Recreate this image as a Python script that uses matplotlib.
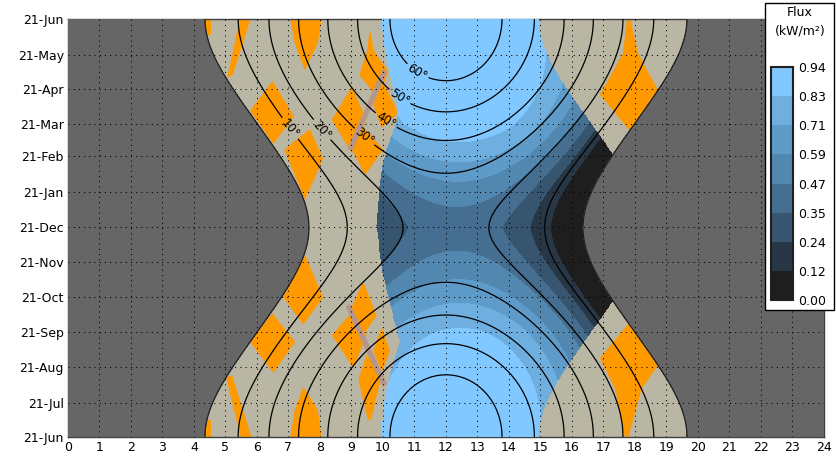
import numpy as np
import matplotlib
matplotlib.use('Agg')
import matplotlib.pyplot as plt
from matplotlib.patches import Polygon, Rectangle

# ---- data ----
latitude = 44.0                     # site latitude (deg N)
month_labels = ['21-Jun', '21-Jul', '21-Aug', '21-Sep', '21-Oct', '21-Nov', '21-Dec',
                '21-Jan', '21-Feb', '21-Mar', '21-Apr', '21-May', '21-Jun']
month_days = [0, 30, 61, 92, 122, 153, 183, 214, 245, 273, 304, 334, 365]   # days after 21-Jun
# sky clearness on each 21st (spring is clearer than autumn on this chart)
month_clearness = [1.0, 1.0, 1.0, 1.0, 0.97, 0.92, 0.83, 0.95, 1.05, 1.10, 1.08, 1.04, 1.0]
hour_ticks = list(range(25))

flux_levels = [0.00, 0.12, 0.24, 0.35, 0.47, 0.59, 0.71, 0.83, 0.94]
flux_colors = ['#1e1e1e', '#283746', '#37556e', '#466e91', '#5287af',
               '#5f9bc8', '#6eafe0', '#80c8ff']
alt_levels = [10, 20, 30, 40, 50, 60]
alt_label_pos = [(7.15, 272), (8.16, 271), (9.53, 267), (10.17, 280), (10.59, 300), (11.17, 323)]

# sunlit window: west limit as an azimuth, east limit as hour vs date
west_limit_az = 75.0
edge_days = [0, 34, 60, 83, 124, 148, 185, 210, 233, 251, 274, 286, 318, 338, 365]
edge_hours = [9.96, 10.06, 10.28, 10.54, 10.16, 9.96, 9.80, 9.86, 9.96, 10.12, 10.43, 10.48,
              10.22, 10.06, 9.96]

# receiving surface and clear-sky beam used for the flux map
surf_tilt = 12.0
surf_azimuth = 30.0        # degrees west of south
beam_max = 1.02            # kW/m2
beam_alt0 = 4.4            # degrees, beam vanishes below this
beam_alt_scale = 8.07      # degrees

# orange patches (hour, days after 21-Jun)
orange_patches = [
    [(5.46, 366), (5.81, 366), (5.24, 317), (5.05, 313)],
    [(4.3, 366), (4.54, 366), (4.54, 351), (4.3, 351)],
    [(7.05, 366), (8.06, 366), (7.93, 344), (7.52, 320), (7.2, 344)],
    [(6.49, 311), (7.18, 280), (6.52, 256), (5.78, 285)],
    [(7.68, 269), (8.10, 243), (7.52, 207), (6.87, 251)],
    [(9.56, 353), (9.62, 353), (9.70, 338), (10.17, 319), (9.85, 296), (9.25, 316), (9.50, 338)],
    [(9.96, 312), (10.49, 283), (9.96, 270), (9.69, 290)],
    [(9.01, 306), (9.48, 277), (9.01, 248), (8.37, 277)],
    [(9.37, 271), (10.01, 251), (9.43, 229), (9.01, 251)],
    [(7.52, 159), (8.10, 122), (7.47, 98), (6.83, 122)],
    [(6.49, 108), (7.21, 83), (6.52, 56), (5.78, 83)],
    [(5.02, 52), (5.21, 54), (5.84, -1), (5.49, -1)],
    [(4.3, 15), (4.54, 15), (4.54, -1), (4.3, -1)],
    [(7.05, -1), (8.06, -1), (7.93, 24), (7.47, 44), (7.2, 24)],
    [(9.37, 136), (9.80, 106), (9.37, 89), (8.95, 110)],
    [(9.01, 109), (9.48, 89), (9.06, 60), (8.37, 89)],
    [(9.96, 96), (10.22, 75), (9.96, 57), (9.69, 75)],
    [(9.48, 72), (9.96, 54), (9.62, 15), (9.52, 15), (9.22, 50)],
    [(17.75, 366), (17.84, 366), (18.10, 335), (18.73, 303), (17.87, 266), (16.89, 299), (17.62, 335)],
    [(17.79, 99), (18.74, 63), (18.21, 42), (17.79, 0), (17.68, 0), (17.37, 42), (16.89, 69)],
]
pink_strips = [[(10.06, 320), (8.95, 251)], [(8.89, 115), (10.06, 45)]]

# ---- sun position grid ----
hours = np.linspace(0, 24, 961)
days = np.linspace(0, 365, 731)
H, D = np.meshgrid(hours, days)
decl = np.radians(23.44) * np.sin(2 * np.pi * (284 + 172 + D) / 365.0)
ha = np.radians(15.0 * (H - 12.0))
phi = np.radians(latitude)
sin_alt = np.sin(phi) * np.sin(decl) + np.cos(phi) * np.cos(decl) * np.cos(ha)
alt = np.degrees(np.arcsin(sin_alt))
az = np.degrees(np.arctan2(np.sin(ha), np.cos(ha) * np.sin(phi) - np.tan(decl) * np.cos(phi)))

east_edge = np.interp(D, edge_days, edge_hours)
sunlit = (alt > 0) & (az <= west_limit_az) & (H >= east_edge)

cos_alt = np.cos(np.radians(alt))
cos_inc = sin_alt * np.cos(np.radians(surf_tilt)) + \
    cos_alt * np.sin(np.radians(surf_tilt)) * np.cos(np.radians(az - surf_azimuth))
beam = beam_max * (1 - np.exp(-np.clip(alt - beam_alt0, 0, None) / beam_alt_scale))
clearness = np.interp(D, month_days, month_clearness)
flux = np.clip(beam * cos_inc * clearness, 0, 0.94)
flux = np.ma.masked_where(~sunlit, flux)

# ---- figure ----
fig = plt.figure(figsize=(8.36, 4.61), dpi=100)
ax = fig.add_axes([0.0813, 0.052, 0.9043, 0.9067])
ax.set_facecolor('#666666')

ax.contourf(H, D, alt, levels=[0, 91], colors=['#bab6a4'], zorder=1)
for pts in orange_patches:
    ax.add_patch(Polygon(pts, closed=True, facecolor='#ff9900', edgecolor='none', zorder=2))
for pts in pink_strips:
    xs, ys = zip(*pts)
    ax.plot(xs, ys, color='#b5968c', lw=3.8, solid_capstyle='butt', zorder=2.5)

cf = ax.contourf(H, D, flux, levels=flux_levels, colors=flux_colors, zorder=3)
ax.contourf(H, D, alt, levels=[-91, 0], colors=['#666666'], zorder=3.5)

ax.contour(H, D, alt, levels=[0], colors='#202020', linewidths=0.9, zorder=4)
cs = ax.contour(H, D, alt, levels=alt_levels, colors='black', linewidths=0.9, zorder=4)
ax.clabel(cs, levels=alt_levels, manual=alt_label_pos, fmt='%d°', fontsize=8.5, inline=True,
          inline_spacing=2)

for x in hour_ticks[1:-1]:
    ax.axvline(x, color='black', lw=0.75, ls=(0, (1, 4)), zorder=6)
for y in month_days[1:-1]:
    ax.axhline(y, color='black', lw=0.75, ls=(0, (1, 4)), zorder=6)

ax.set_xlim(0, 24)
ax.set_ylim(0, 365)
ax.set_xticks(hour_ticks)
ax.set_yticks(month_days)
ax.set_yticklabels(month_labels)
ax.tick_params(length=0, labelsize=9, pad=3)
for sp in ax.spines.values():
    sp.set_color('#404040')
    sp.set_linewidth(1.0)

# legend box with colour bar
fig.add_artist(Rectangle((0.915, 0.3275), 0.0825, 0.666, transform=fig.transFigure,
                         facecolor='white', edgecolor='black', lw=1.0, zorder=5))
fig.text(0.957, 0.972, 'Flux', ha='center', va='center', fontsize=9, zorder=6)
fig.text(0.957, 0.933, '(kW/m²)', ha='center', va='center', fontsize=9, zorder=6)
cax = fig.add_axes([0.9222, 0.349, 0.0263, 0.5054])
cax.set_zorder(6)
cb = fig.colorbar(cf, cax=cax, ticks=flux_levels)
cb.ax.set_yticklabels(['%.2f' % v for v in flux_levels])
cb.ax.tick_params(length=0, labelsize=9, pad=4)
cb.outline.set_linewidth(1.5)
cb.outline.set_edgecolor('#202020')

fig.savefig('out.png', dpi=100)
